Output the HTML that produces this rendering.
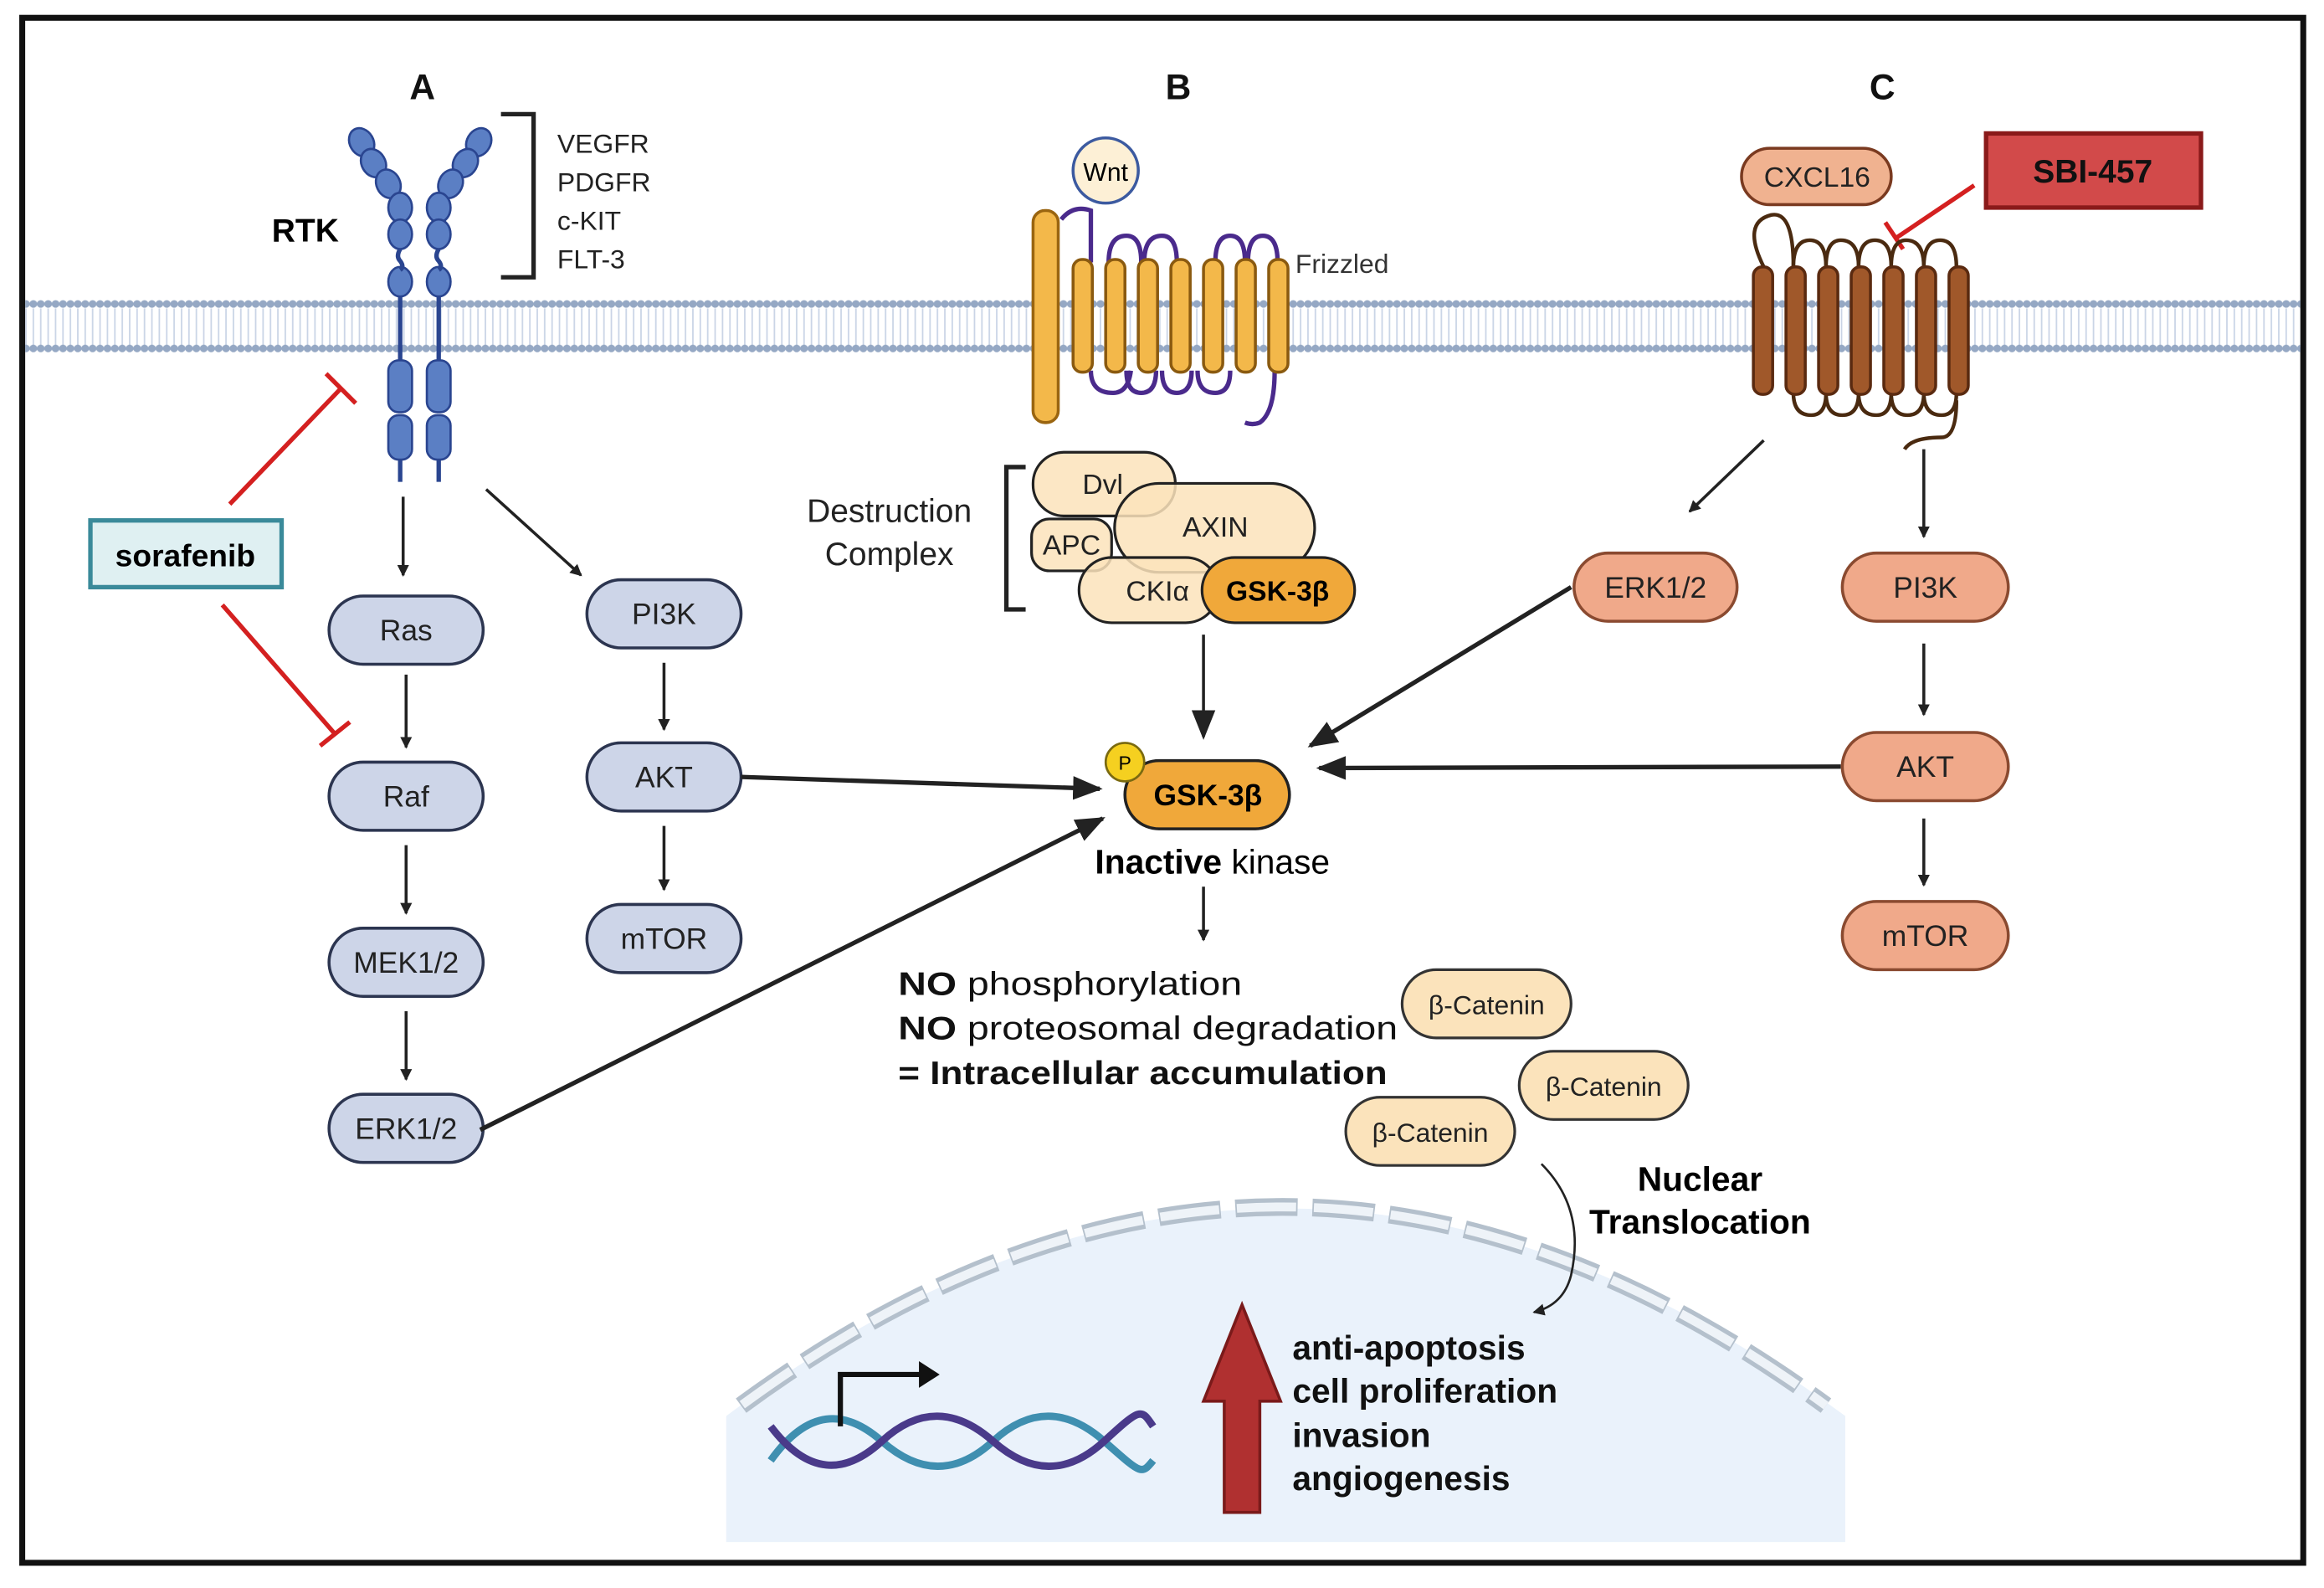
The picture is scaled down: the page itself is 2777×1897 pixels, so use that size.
<!DOCTYPE html>
<html><head><meta charset="utf-8"><style>html,body{margin:0;padding:0;background:#fff}svg{display:block}</style></head>
<body>
<svg width="2777" height="1897" viewBox="0 0 1568 1071" preserveAspectRatio="none" xmlns="http://www.w3.org/2000/svg" font-family="Liberation Sans, sans-serif">
<defs>
<marker id="ah" markerWidth="8" markerHeight="8" refX="7" refY="4" orient="auto" markerUnits="userSpaceOnUse"><path d="M0,0 L8,4 L0,8 Z" fill="#222"/></marker>
<marker id="ahb" markerWidth="20" markerHeight="16" refX="18" refY="8" orient="auto" markerUnits="userSpaceOnUse"><path d="M0,0 L20,8 L0,16 Z" fill="#222"/></marker>
<pattern id="heads" width="5" height="10" patternUnits="userSpaceOnUse"><circle cx="2.5" cy="5" r="2.6" fill="#95a8c4"/></pattern>
<pattern id="tails" width="5" height="14" patternUnits="userSpaceOnUse"><line x1="2.5" y1="0" x2="2.5" y2="14" stroke="#c9d4e6" stroke-width="1"/></pattern>
</defs>
<rect x="0" y="0" width="1568" height="1071" fill="#fff"/>
<rect x="15" y="12" width="1539" height="1042" fill="none" stroke="#111" stroke-width="4"/>
<!-- membrane -->
<rect x="17" y="208" width="1535" height="26" fill="url(#tails)"/>
<rect x="17" y="202" width="1535" height="10" fill="url(#heads)"/>
<rect x="17" y="230" width="1535" height="10" fill="url(#heads)"/>
<!-- labels -->
<g font-weight="bold" font-size="24" text-anchor="middle" fill="#111">
<text x="285" y="67">A</text><text x="795" y="67">B</text><text x="1270" y="67">C</text></g>
<text x="206" y="163" font-size="22" font-weight="bold" text-anchor="middle">RTK</text>
<path d="M338,77 H360 V187 H338" fill="none" stroke="#222" stroke-width="3"/>
<g font-size="18" fill="#222"><text x="376" y="103">VEGFR</text><text x="376" y="129">PDGFR</text><text x="376" y="155">c-KIT</text><text x="376" y="181">FLT-3</text></g>
<!-- RTK -->
<g fill="#5b7fc4" stroke="#2a4590" stroke-width="1.5">
<ellipse cx="244" cy="96" rx="8" ry="10" transform="rotate(-30 244 96)"/>
<ellipse cx="252" cy="110" rx="8" ry="10" transform="rotate(-30 252 110)"/>
<ellipse cx="262" cy="124" rx="8" ry="10" transform="rotate(-25 262 124)"/>
<ellipse cx="270" cy="140" rx="8" ry="10"/><ellipse cx="270" cy="158" rx="8" ry="10"/>
<ellipse cx="270" cy="190" rx="8" ry="10"/>
<ellipse cx="323" cy="96" rx="8" ry="10" transform="rotate(30 323 96)"/>
<ellipse cx="314" cy="110" rx="8" ry="10" transform="rotate(30 314 110)"/>
<ellipse cx="304" cy="124" rx="8" ry="10" transform="rotate(25 304 124)"/>
<ellipse cx="296" cy="140" rx="8" ry="10"/><ellipse cx="296" cy="158" rx="8" ry="10"/>
<ellipse cx="296" cy="190" rx="8" ry="10"/>
<rect x="262" y="243" width="16" height="35" rx="7"/><rect x="262" y="280" width="16" height="30" rx="7"/>
<rect x="288" y="243" width="16" height="35" rx="7"/><rect x="288" y="280" width="16" height="30" rx="7"/>
</g>
<g stroke="#2a4590" stroke-width="3" fill="none">
<path d="M270,168 q-3,5 0,8 q3,4 0,6"/><path d="M296,168 q-3,5 0,8 q3,4 0,6"/>
<line x1="270" y1="200" x2="270" y2="243"/><line x1="296" y1="200" x2="296" y2="243"/>
<line x1="270" y1="310" x2="270" y2="325"/><line x1="296" y1="310" x2="296" y2="325"/>
</g>
<!-- sorafenib -->
<rect x="61" y="351" width="129" height="45" fill="#dff0f2" stroke="#3a8a9a" stroke-width="3"/>
<text x="125" y="382" font-size="21" font-weight="bold" text-anchor="middle">sorafenib</text>
<g stroke="#d42020" stroke-width="3" fill="none">
<line x1="155" y1="340" x2="230" y2="262"/><line x1="220" y1="252" x2="240" y2="272"/>
<line x1="150" y1="408" x2="226" y2="495"/><line x1="216" y1="503" x2="236" y2="487"/>
</g>
<!-- left nodes -->
<g fill="#cdd5e8" stroke="#2c3550" stroke-width="2">
<rect x="222" y="402" width="104" height="46" rx="23"/>
<rect x="222" y="514" width="104" height="46" rx="23"/>
<rect x="222" y="626" width="104" height="46" rx="23"/>
<rect x="222" y="738" width="104" height="46" rx="23"/>
<rect x="396" y="391" width="104" height="46" rx="23"/>
<rect x="396" y="501" width="104" height="46" rx="23"/>
<rect x="396" y="610" width="104" height="46" rx="23"/>
</g>
<g font-size="20" text-anchor="middle" fill="#222">
<text x="274" y="432">Ras</text><text x="274" y="544">Raf</text><text x="274" y="656">MEK1/2</text><text x="274" y="768">ERK1/2</text>
<text x="448" y="421">PI3K</text><text x="448" y="531">AKT</text><text x="448" y="640">mTOR</text></g>
<g stroke="#222" stroke-width="2" marker-end="url(#ah)">
<line x1="272" y1="335" x2="272" y2="388"/><line x1="274" y1="455" x2="274" y2="504"/>
<line x1="274" y1="570" x2="274" y2="616"/><line x1="274" y1="682" x2="274" y2="728"/>
<line x1="328" y1="330" x2="392" y2="388"/><line x1="448" y1="447" x2="448" y2="492"/>
<line x1="448" y1="557" x2="448" y2="600"/>
</g>
<g stroke="#222" stroke-width="3" marker-end="url(#ahb)">
<line x1="500" y1="524" x2="742" y2="532"/>
<line x1="324" y1="762" x2="744" y2="552"/>
<line x1="1060" y1="396" x2="884" y2="503"/>
<line x1="1242" y1="517" x2="890" y2="518"/>
<line x1="812" y1="428" x2="812" y2="497" stroke-width="2"/>
</g>
<!-- Frizzled -->
<rect x="697" y="142" width="17" height="143" rx="8" fill="#f3b84a" stroke="#9a6510" stroke-width="2"/>
<circle cx="746" cy="115" r="22" fill="#fdf0d6" stroke="#3c5aa0" stroke-width="2"/>
<text x="746" y="122" font-size="17" text-anchor="middle">Wnt</text>
<path d="M716,148 q8,-10 20,-6 q0,30 0,35 M736,250 q0,15 15,15 q10,0 12,-15 M772,177 q0,-18 12,-18 q10,0 10,18 M808,250 q0,15 12,15 q10,0 10,-15 M842,177 q0,-18 10,-18 q10,0 10,18 M860,250 q0,28 -10,35 q-5,2 -10,0" fill="none" stroke="#4a2a8c" stroke-width="3"/>
<path d="M748,177 q0,-18 12,-18 q10,0 10,18 M760,250 q0,15 10,15 q10,0 10,-15 M784,250 q0,15 10,15 q10,0 10,-15 M820,177 q0,-18 10,-18 q10,0 10,18" fill="none" stroke="#4a2a8c" stroke-width="3"/>
<g fill="#f3b84a" stroke="#8a5a10" stroke-width="2">
<rect x="724" y="175" width="13" height="76" rx="6"/><rect x="746" y="175" width="13" height="76" rx="6"/>
<rect x="768" y="175" width="13" height="76" rx="6"/><rect x="790" y="175" width="13" height="76" rx="6"/>
<rect x="812" y="175" width="13" height="76" rx="6"/><rect x="834" y="175" width="13" height="76" rx="6"/>
<rect x="856" y="175" width="13" height="76" rx="6"/></g>
<text x="874" y="184" font-size="18" fill="#333">Frizzled</text>
<!-- destruction complex -->
<text x="600" y="352" font-size="22" text-anchor="middle" fill="#222">Destruction</text>
<text x="600" y="381" font-size="22" text-anchor="middle" fill="#222">Complex</text>
<path d="M692,315 H679 V411 H692" fill="none" stroke="#222" stroke-width="3"/>
<g stroke="#222" stroke-width="1.8" fill="#fbe3bb" fill-opacity="0.85">
<rect x="697" y="305" width="96" height="43" rx="21"/>
<rect x="752" y="326" width="135" height="60" rx="30"/>
<rect x="696" y="350" width="54" height="35" rx="12"/>
<rect x="728" y="376" width="94" height="44" rx="22"/>
<rect x="811" y="376" width="103" height="44" rx="22" fill="#f0a83a" fill-opacity="1"/>
</g>
<g font-size="19" text-anchor="middle" fill="#222">
<text x="744" y="333">Dvl</text><text x="820" y="362">AXIN</text><text x="723" y="374">APC</text><text x="781" y="405">CKIα</text></g>
<text x="862" y="405" font-size="19" font-weight="bold" text-anchor="middle">GSK-3β</text>
<!-- central GSK -->
<rect x="759" y="513" width="111" height="46" rx="23" fill="#f0a83a" stroke="#222" stroke-width="2"/>
<circle cx="759" cy="514" r="13" fill="#f5d020" stroke="#7a6a10" stroke-width="1.5"/>
<text x="759" y="519" font-size="13" text-anchor="middle">P</text>
<text x="815" y="543" font-size="20" font-weight="bold" text-anchor="middle">GSK-3β</text>
<text x="818" y="589" font-size="23" text-anchor="middle"><tspan font-weight="bold">Inactive</tspan> kinase</text>
<line x1="812" y1="598" x2="812" y2="634" stroke="#222" stroke-width="2" marker-end="url(#ah)"/>
<g font-size="22" fill="#111">
<text x="606" y="671" textLength="232" lengthAdjust="spacingAndGlyphs"><tspan font-weight="bold">NO</tspan> phosphorylation</text>
<text x="606" y="701" textLength="337" lengthAdjust="spacingAndGlyphs"><tspan font-weight="bold">NO</tspan> proteosomal degradation</text>
<text x="606" y="731" font-weight="bold" textLength="330" lengthAdjust="spacingAndGlyphs">= Intracellular accumulation</text></g>
<g fill="#fbe3bb" stroke="#333" stroke-width="1.8">
<rect x="946" y="654" width="114" height="46" rx="23"/><rect x="1025" y="709" width="114" height="46" rx="23"/><rect x="908" y="740" width="114" height="46" rx="23"/></g>
<g font-size="18" text-anchor="middle" fill="#222"><text x="1003" y="684">β-Catenin</text><text x="1082" y="739">β-Catenin</text><text x="965" y="770">β-Catenin</text></g>
<!-- C -->
<rect x="1175" y="100" width="101" height="38" rx="19" fill="#f0b290" stroke="#7a3a20" stroke-width="2"/>
<text x="1226" y="126" font-size="19" text-anchor="middle" fill="#222">CXCL16</text>
<rect x="1340" y="90" width="145" height="50" fill="#d24a4a" stroke="#8a1a1a" stroke-width="3"/>
<text x="1412" y="123" font-size="22" font-weight="bold" text-anchor="middle" fill="#111">SBI-457</text>
<g stroke="#d42020" stroke-width="3"><line x1="1332" y1="125" x2="1280" y2="160"/><line x1="1272" y1="150" x2="1284" y2="168"/></g>
<path d="M1190,180 q-15,-30 5,-35 q15,-3 15,35 M1210,265 q0,15 12,15 q10,0 10,-15 M1232,180 q0,-18 10,-18 q12,0 12,18 M1254,265 q0,15 12,15 q10,0 10,-15 M1276,180 q0,-18 10,-18 q12,0 12,18 M1298,265 q0,15 12,15 q10,0 10,-15 M1320,270 q0,25 -10,25 q-20,0 -25,8" fill="none" stroke="#4a2a10" stroke-width="2.5"/>
<path d="M1210,180 q0,-18 11,-18 q11,0 11,18 M1254,180 q0,-18 11,-18 q11,0 11,18 M1232,265 q0,15 11,15 q11,0 11,-15 M1276,265 q0,15 11,15 q11,0 11,-15 M1298,180 q0,-18 11,-18 q11,0 11,18" fill="none" stroke="#4a2a10" stroke-width="2.5"/>
<g fill="#a0582a" stroke="#5a2a10" stroke-width="2">
<rect x="1183" y="180" width="13" height="86" rx="6"/><rect x="1205" y="180" width="13" height="86" rx="6"/>
<rect x="1227" y="180" width="13" height="86" rx="6"/><rect x="1249" y="180" width="13" height="86" rx="6"/>
<rect x="1271" y="180" width="13" height="86" rx="6"/><rect x="1293" y="180" width="13" height="86" rx="6"/>
<rect x="1315" y="180" width="13" height="86" rx="6"/></g>
<g fill="#f0a98a" stroke="#8a4a30" stroke-width="2">
<rect x="1062" y="373" width="110" height="46" rx="23"/>
<rect x="1243" y="373" width="112" height="46" rx="23"/>
<rect x="1243" y="494" width="112" height="46" rx="23"/>
<rect x="1243" y="608" width="112" height="46" rx="23"/></g>
<g font-size="20" text-anchor="middle" fill="#222">
<text x="1117" y="403">ERK1/2</text><text x="1299" y="403">PI3K</text><text x="1299" y="524">AKT</text><text x="1299" y="638">mTOR</text></g>
<g stroke="#222" stroke-width="2" marker-end="url(#ah)">
<line x1="1190" y1="297" x2="1140" y2="345"/><line x1="1298" y1="303" x2="1298" y2="362"/>
<line x1="1298" y1="434" x2="1298" y2="482"/><line x1="1298" y1="552" x2="1298" y2="597"/>
</g>
<!-- nucleus -->
<path d="M490,1040 L490,955 Q865,675 1245,955 L1245,1040 Z" fill="#eaf2fb"/>
<path d="M500,948 Q865,680 1232,948" fill="none" stroke="#b4c0cc" stroke-width="12" stroke-dasharray="42 10"/>
<path d="M500,948 Q865,680 1232,948" fill="none" stroke="#eef3f8" stroke-width="6" stroke-dasharray="40 12" stroke-dashoffset="-1"/>
<path d="M1040,785 q30,30 20,75 q-5,20 -25,25" fill="none" stroke="#222" stroke-width="1.5" marker-end="url(#ah)"/>
<text x="1147" y="803" font-size="23" font-weight="bold" text-anchor="middle">Nuclear</text>
<text x="1147" y="832" font-size="23" font-weight="bold" text-anchor="middle">Translocation</text>
<!-- DNA -->
<path d="M520,985 C545,950 570,950 595,972 S645,995 670,972 S720,950 745,972 S770,995 778,985" fill="none" stroke="#3f8fb0" stroke-width="5"/>
<path d="M520,962 C545,995 570,995 595,972 S645,950 670,972 S720,995 745,972 S770,950 778,962" fill="none" stroke="#4a3a8a" stroke-width="5"/>
<path d="M567,962 V927 H622" fill="none" stroke="#111" stroke-width="3.5"/>
<path d="M620,918 L634,927 L620,936 Z" fill="#111"/>
<path d="M826,1020 V945 H812 L838,880 L864,945 H850 V1020 Z" fill="#b03030" stroke="#7a1a1a" stroke-width="2"/>
<g font-size="23" font-weight="bold" fill="#111">
<text x="872" y="917">anti-apoptosis</text><text x="872" y="946">cell proliferation</text>
<text x="872" y="976">invasion</text><text x="872" y="1005">angiogenesis</text></g>
</svg>
</body></html>
